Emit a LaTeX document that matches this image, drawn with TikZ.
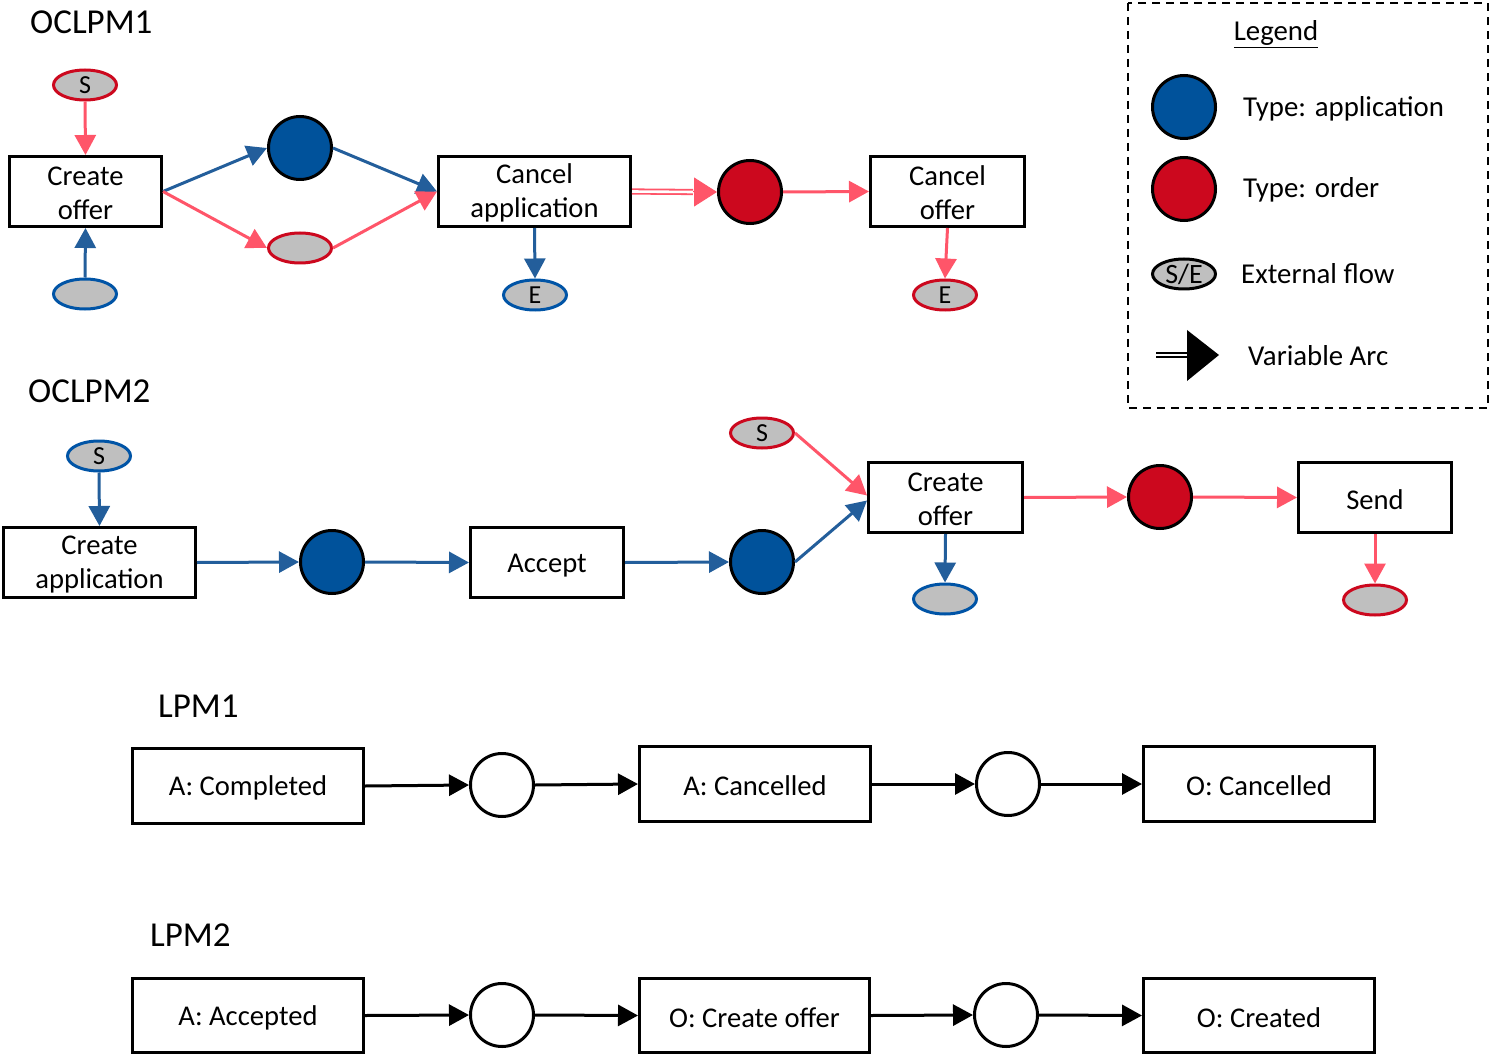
\documentclass[tikz,border=0pt]{standalone}
\usepackage{fontspec}
\setmainfont{Carlito}
\usetikzlibrary{arrows.meta,shapes.geometric,calc}
\definecolor{bluel}{RGB}{35,94,155}
\definecolor{pinkl}{RGB}{255,85,105}
\definecolor{bluef}{RGB}{0,82,155}
\definecolor{redf}{RGB}{204,8,30}
\definecolor{ellb}{RGB}{0,84,166}
\definecolor{ellr}{RGB}{204,8,30}
\definecolor{grayf}{RGB}{191,191,191}
\newcommand{\tstrut}{\rule{0pt}{22.5pt}}
\tikzset{
  box/.style={draw=black, line width=3pt, fill=white, align=center, inner sep=0pt,
    font=\fontsize{28.6}{34}\selectfont, execute at begin node={\rule{0pt}{24pt}}},
  box2/.style={draw=black, line width=3pt, fill=white, align=center, inner sep=0pt,
    font=\fontsize{28.6}{34}\selectfont},
  place/.style={circle, draw=black, line width=3pt, minimum size=63pt, inner sep=0pt},
  bplace/.style={place, fill=bluef},
  rplace/.style={place, fill=redf},
  wplace/.style={place, fill=white},
  ext/.style={ellipse, line width=3pt, fill=grayf, minimum width=63pt, minimum height=30pt,
    inner sep=0pt, font=\fontsize{26}{26}\selectfont},
  bext/.style={ext, draw=ellb},
  rext/.style={ext, draw=ellr},
  tip/.style={-{Triangle[length=20pt,width=21pt]}},
  barc/.style={tip, draw=bluel, fill=bluel, line width=3pt},
  parc/.style={tip, draw=pinkl, fill=pinkl, line width=3pt},
  karc/.style={tip, draw=black, fill=black, line width=3pt},
  title/.style={anchor=west, inner sep=0pt, font=\fontsize{35}{35}\selectfont},
  legtext/.style={anchor=west, inner sep=0pt, font=\fontsize{28.8}{28.8}\selectfont},
}
\begin{document}
\begin{tikzpicture}[x=1pt,y=-1pt]
\useasboundingbox (0,0) rectangle (1490,1056);
\fill[white] (0,0) rectangle (1490,1056);

% ---------------- OCLPM1 ----------------
\node[title] (t1) at (30,22) {OCLPM1};
\node[box2, minimum width=152pt, minimum height=70pt] (co1) at (85.5,191.5) {\tstrut Create\\offer};
\node[rext] (s1) at (85,85) {S};
\node[bext] (b1) at (85,294) {};
\node[bplace] (c1) at (300,148) {};
\node[rext] (e1) at (300,248) {};
\node[box2, minimum width=192pt, minimum height=70pt] (ca) at (534.5,191.5) {\tstrut Cancel\\application};
\node[bext] (e2) at (535,295) {E};
\node[rplace] (rc) at (750,192) {};
\node[box2, minimum width=154pt, minimum height=70pt] (cof) at (947.5,191.5) {\tstrut Cancel\\offer};
\node[rext] (e3) at (945,295) {E};

\draw[parc] (s1.south) -- (co1.north);
\draw[barc] (b1.north) -- (co1.south);
\draw[barc] (co1.east) -- (c1.west);
\draw[parc] (co1.east) -- (e1.west);
\draw[barc] (c1.east) -- (ca.west);
\draw[parc] (e1.east) -- (ca.west);
\draw[barc] (ca.south) -- (e2.north);
\coordinate (dtip) at ($(rc.west)+(-24,0)$);
\draw[draw=pinkl, double=white, line width=1.8pt, double distance=2.6pt] (ca.east) -- (dtip);
\draw[draw=pinkl, fill=pinkl, line width=1pt, -{Triangle[length=23pt,width=29pt]}] (dtip) -- (rc.west);
\draw[parc] (rc.east) -- (cof.west);
\draw[parc] (cof.south) -- (e3.north);

% ---------------- Legend ----------------
\draw[line width=2.5pt, dash pattern=on 8pt off 6pt] (1128,3) rectangle (1488,408);
\node[legtext, anchor=center] (lg) at (1276,34) {\underline{Legend}};
\node[bplace] (lb) at (1184,107) {};
\node[legtext] (lbt) at (1243,109) {Type: application};
\node[rplace] (lr) at (1184,189) {};
\node[legtext] (lrt) at (1243,190) {Type: order};
\node[ext, draw=black, font=\fontsize{28}{28}\selectfont] (le) at (1184,274) {S/E};
\node[legtext] (let) at (1241,274) {External flow};
\draw[line width=1.8pt, double=white, double distance=2.8pt] (1156,355) -- (1190,355);
\fill[black] (1187,330) -- (1219,355) -- (1187,381) -- cycle;
\node[legtext] (lvt) at (1248,356) {Variable Arc};

% ---------------- OCLPM2 ----------------
\node[title] (t2) at (28,391) {OCLPM2};
\node[bext] (s2) at (99,456) {S};
\node[box2, minimum width=192pt, minimum height=70pt] (cap) at (99.5,562.5) {\tstrut Create\\application};
\node[bplace] (c3) at (332,562) {};
\node[box, minimum width=153pt, minimum height=70pt] (acc) at (547,562.5) {Accept};
\node[bplace] (c4) at (762,562) {};
\node[rext] (s3) at (762,433) {S};
\node[box2, minimum width=154pt, minimum height=70pt] (co2) at (945.5,497.5) {\tstrut Create\\offer};
\node[bext] (e4) at (945,599) {};
\node[rplace] (rc2) at (1160,497) {};
\node[box, minimum width=153pt, minimum height=70pt] (snd) at (1375,497.5) {Send};
\node[rext] (e5) at (1375,600) {};

\draw[barc] (s2.south) -- (cap.north);
\draw[barc] (cap.east) -- (c3.west);
\draw[barc] (c3.east) -- (acc.west);
\draw[barc] (acc.east) -- (c4.west);
\draw[barc] (c4.east) -- ($(co2.west)+(0,3)$);
\draw[parc] (s3.east) -- ($(co2.west)+(0,-2)$);
\draw[barc] (co2.south) -- (e4.north);
\draw[parc] (co2.east) -- (rc2.west);
\draw[parc] (rc2.east) -- (snd.west);
\draw[parc] (snd.south) -- (e5.north);

% ---------------- LPM1 ----------------
\node[title] (t3) at (158,706) {LPM1};
\node[box, minimum width=231pt, minimum height=75pt] (ac) at (248,786) {A: Completed};
\node[wplace] (w1) at (502,785) {};
\node[box, minimum width=231pt, minimum height=75pt] (acn) at (755,784) {A: Cancelled};
\node[wplace] (w2) at (1008,784) {};
\node[box, minimum width=231pt, minimum height=75pt] (ocn) at (1259,784) {O: Cancelled};
\draw[karc] (ac.east) -- (w1.west);
\draw[karc] (w1.east) -- (acn.west);
\draw[karc] (acn.east) -- (w2.west);
\draw[karc] (w2.east) -- (ocn.west);

% ---------------- LPM2 ----------------
\node[title] (t4) at (150,935) {LPM2};
\node[box, minimum width=231pt, minimum height=74pt] (aa) at (248,1015.5) {A: Accepted};
\node[wplace] (w3) at (502,1015) {};
\node[box, minimum width=230pt, minimum height=74pt] (oco) at (754.5,1015.5) {O: Create offer};
\node[wplace] (w4) at (1006,1015) {};
\node[box, minimum width=231pt, minimum height=74pt] (ocr) at (1259,1015.5) {O: Created};
\draw[karc] (aa.east) -- (w3.west);
\draw[karc] (w3.east) -- (oco.west);
\draw[karc] (oco.east) -- (w4.west);
\draw[karc] (w4.east) -- (ocr.west);
\end{tikzpicture}
\end{document}
